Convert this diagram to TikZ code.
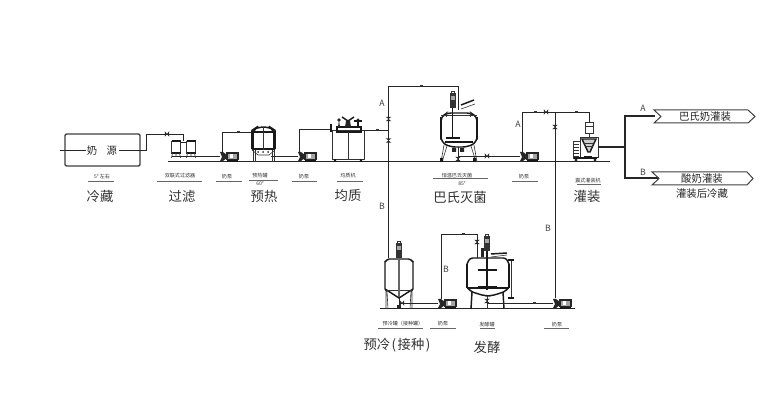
\documentclass[tikz,border=0pt]{standalone}
\usepackage{fontspec}
\setmainfont{Noto Sans CJK SC}
\begin{document}
\begin{tikzpicture}[x=0.75pt,y=-0.75pt,line cap=butt,
  pipe/.style={draw=black!85,line width=0.6pt},
  thin part/.style={draw=black!80,line width=0.45pt},
  heavy/.style={draw=black!90,line width=1.1pt},
  small/.style={font=\fontsize{3.8pt}{4pt}\selectfont,text=black!80,inner sep=0pt},
  big/.style={font=\fontsize{10pt}{11pt}\selectfont,text=black!80,inner sep=0pt},
  mid/.style={font=\fontsize{7.8pt}{9pt}\selectfont,text=black!85,inner sep=0pt},
  letter/.style={font=\fontsize{6.5pt}{7pt}\selectfont,text=black!75,inner sep=0pt},
  uline/.style={draw=black!60,line width=0.55pt},
  pumpunit/.pic={
    \fill[black!85] (-4,-4) -- (-1,-4) -- (3,-1) -- (3,2) -- (-1,5) -- (-4,5) -- (-2,1) -- cycle;
    \draw[draw=black!85,line width=0.8pt,fill=black!35] (3,-3) rectangle (14,3.5);
    \fill[white] (6,-2) rectangle (9,2.5);
    \draw[heavy] (3,5) -- (14,5);
  },
  valveunit/.pic={
    \fill[black!85] (-2.8,-2.2) -- (2.8,-2.2) -- (-2.8,2.2) -- (2.8,2.2) -- cycle;
  },
  hvalve/.pic={
    \fill[black!85] (-2.2,-2.8) -- (-2.2,2.8) -- (2.2,-2.8) -- (2.2,2.8) -- cycle;
  },
  motorunit/.pic={
    \fill[black!80] (-3,-15) rectangle (3,0);
    \fill[black!35] (-2,-12) rectangle (2,-8);
    \draw[thin part] (-1.5,-17) rectangle (1.5,-15);
  },
]
\useasboundingbox (0,0) rectangle (767,416);
\fill[white] (0,0) rectangle (767,416);

% named junctions
\coordinate (srcL) at (60,150);
\coordinate (srcR) at (146,150);
\coordinate (fTop) at (146,134);
\coordinate (fIn) at (183,134);
\coordinate (p1) at (220,156);
\coordinate (p2) at (298,156);
\coordinate (p3) at (520,156);
\coordinate (p4) at (438,303);
\coordinate (p5) at (553,303);
\coordinate (mainL) at (168,162);
\coordinate (mainR) at (610,162);
\coordinate (base2L) at (380,309);
\coordinate (base2R) at (575,309);

% base lines
\draw[pipe,line width=0.75pt] (mainL) -- (mainR);
\draw[pipe,line width=0.75pt] (base2L) -- (base2R);

% milk source
\draw[heavy,draw=black!75,rounded corners=1pt] (65,134) rectangle (140,166);
\draw[pipe] (srcL) -- (86,150) (119,150) -- (srcR) |- (fIn) -- (183,141);
\node[mid] (srcText) at (102,151) {奶\hspace{0.9em}源};
\pic at (167,134) {hvalve};

% filters
\foreach \x/\n in {176/a,191/b}{
  \draw[thin part,line width=0.7pt] (\x-4.5,141) rectangle (\x+4.5,153);
  \draw[draw=black!90,line width=1.4pt] (\x-4.5,141) -- (\x+4.5,141);
  \draw[heavy] (\x-4.5,153) -- (\x+4.5,153);
  \draw[thin part] (\x-3.5,153) -- (\x-4.5,158) (\x+3.5,153) -- (\x+4.5,158) (\x,153) -- (\x,156);
}
\draw[pipe] (180.5,142) -- (186.5,142);
\draw[pipe] (172,156) -- (p1);

% pump 1 and preheat
\pic at (224,156) {pumpunit};
\draw[pipe] (222,152) |- (252,132);
\fill[black!80] (237,131) rectangle (240,133);
\draw[heavy,rounded corners=5pt] (252.5,150) -- (252.5,130) -- (257,127) -- (270,127) -- (274.5,130) -- (274.5,150);
\draw[heavy] (252,132) -- (275,132) (252,149) -- (275,149);
\draw[draw=black!90,line width=1.6pt] (252.5,131) -- (252.5,149) (274.5,131) -- (274.5,149);
\draw[thin part] (263.5,127) -- (263.5,150);
\draw[thin part] (252,150) -- (258,155) -- (269,155) -- (275,150);
\draw[thin part] (253,150) -- (253,162) (274,150) -- (274,162) (255,150) -- (255,162) (272,150) -- (272,162);
\fill[black!80] (258,152) circle (1) (263,152) circle (1) (268,152) circle (1);
\draw[pipe] (271,156) -- (p2);

% pump 2 and homogenizer
\pic at (302,156) {pumpunit};
\draw[pipe] (299,152) |- (331,129);
\draw[heavy] (331,124) -- (331,132);
\draw[thin part] (332,130) rectangle (364,159);
\draw[heavy] (337,127) rectangle (361,132);
\draw[thin part] (348,132) -- (348,159);
\draw[heavy] (335,159) -- (335,162) (361,159) -- (361,162);
\fill[black!90] (333,161) rectangle (337,162) (359,161) rectangle (363,162);
\fill[black!85] (339,120) circle (1.8) (339,120) -- (338,127) -- (340,127) -- cycle;
\draw[heavy] (342,117) -- (348,121) -- (354,117);
\fill[black!85] (346,121) -- (350,121) -- (351,127) -- (345,127) -- cycle;
\fill[black!85] (358,120) circle (1.6);
\draw[heavy] (354,121) -- (362,121) (358,121) -- (358,127);
\draw[pipe] (364,130) -- (389,130);
\fill[black!80] (376,129.2) rectangle (379,130.8);

% crossover vertical to pasteurizer and cold tank
\draw[pipe] (388.5,258) -- (388.5,86) -- (458,86) -- (458,110);
\fill[black!80] (420,85.2) rectangle (423,86.8);
\pic at (388.5,119) {valveunit};
\pic at (388.5,140.5) {valveunit};
\node[letter] (la) at (382,103.5) {A};
\node[letter] (lb) at (382,206) {B};

% pasteurizer
\draw[heavy,rounded corners=3pt] (441,140) -- (441,117) -- (447,113) -- (471,113) -- (477,117) -- (477,140);
\draw[heavy,line width=1.4pt] (441,117) -- (441,139) (477,117) -- (477,139);
\draw[heavy,rounded corners=4pt] (441,139) -- (441,142) -- (450,147) -- (468,147) -- (477,142) -- (477,139);
\draw[thin part] (441,115) -- (477,115);
\draw[heavy] (452.5,108) -- (452.5,138);
\draw[heavy] (446,138) -- (460,138) (445,142) -- (473,142);
\draw[thin part] (446,112) -- (446,117) (470,112) -- (470,117);
\pic at (452.5,108) {motorunit};
\draw[heavy] (461,105) -- (474,100);
\draw[thin part] (461,109) -- (475,104);
\draw[thin part] (444,145) -- (441,162) (447,146) -- (442,162);
\draw[thin part] (474,145) -- (477,162) (471,146) -- (476,162);
\fill[black!90] (440,158) rectangle (443,162) (473,158) rectangle (476,162);
\fill[black!85] (452,148) rectangle (456,152) (460,148) rectangle (464,152);
\draw[pipe] (458,147) -- (458,162);
\pic at (458,159) {valveunit};
\draw[pipe] (458,156) -- (p3);
\pic at (487,156) {hvalve};

% pump 3 and filler feed
\pic at (524,156) {pumpunit};
\draw[pipe] (522,152) |- (589,112) -- (589,123);
\pic at (546,112) {hvalve};
\fill[black!80] (534,111.2) rectangle (537,112.8);
\fill[black!80] (575,111.2) rectangle (578,112.8);
\node[letter] (lc) at (518,124) {A};

% downward crossover
\draw[pipe] (555,112) -- (555,298);
\pic at (555,127) {valveunit};
\node[letter] (ld) at (548,228) {B};

% filler
\draw[thin part,line width=0.7pt] (585,122) rectangle (593,133);
\draw[thin part] (585,126) -- (593,126);
\draw[thin part] (589,133) -- (589,137);
\draw[thin part,line width=0.7pt] (580,137) rectangle (598,157);
\draw[heavy,fill=black!20] (582,139) -- (596,139) -- (590,152) -- (588,152) -- cycle;
\draw[thin part] (584,143) -- (594,143) (585,146) -- (593,146);
\draw[thin part,line width=0.7pt] (573,141) rectangle (580,158);
\foreach \y in {144,147,150,153,156}{\draw[thin part] (574,\y) -- (579,\y);}
\draw[heavy] (574,158) -- (597,158);
\fill[black!85] (576,160) circle (1.7) (595,160) circle (1.7);
\draw[heavy] (584,157) -- (592,157);
\draw[pipe,line width=0.8pt] (598,147) -- (625,147);
\draw[pipe,line width=0.8pt] (655,116) -- (625,116) -- (625,178) -- (659,178);
\node[letter] (le) at (643,108) {A};
\node[letter] (lf) at (643,172) {B};

% banners
\draw[pipe,line width=0.75pt,draw=black!75] (654,110) -- (748,110) -- (755,116.5) -- (748,123) -- (654,123) -- (661,116.5) -- cycle;
\draw[pipe,line width=0.75pt,draw=black!75] (652,172) -- (747,172) -- (753,178.5) -- (747,185) -- (652,185) -- (659,178.5) -- cycle;
\node[mid] (b1) at (705,116.5) {巴氏奶灌装};
\node[mid] (b2) at (702,178.5) {酸奶灌装};
\node[mid] (b3) at (702,194) {灌装后冷藏};

% cold tank
\pic at (399,258) {motorunit};
\draw[heavy] (385,261) -- (385,289) -- (399,298) -- (413,289) -- (413,261);
\draw[heavy,rounded corners=1pt] (385,262) -- (388,259) -- (410,259) -- (413,262);
\draw[thin part] (385,290) -- (413,290);
\draw[heavy,draw=black!60] (399,258) -- (399,297);
\draw[thin part] (386,291) -- (386,309) (412,291) -- (412,309) (387,291) -- (388,309) (411,291) -- (410,309);
\draw[pipe] (399,298) -- (399,309);
\fill[black!85] (397,305) rectangle (401,309);
\draw[pipe] (399,303) -- (p4);
\pic at (402,303) {hvalve};
\pic at (442,303) {pumpunit};
\draw[pipe] (441,299) |- (477,234) -- (477,258);
\fill[black!80] (462,233.2) rectangle (465,234.8);
\pic at (477,242) {valveunit};
\node[letter] (lg) at (446,269) {B};

% ferment tank
\draw[heavy,line width=1.5pt] (467,264) -- (467,288) (509,264) -- (509,288);
\draw[heavy,rounded corners=2pt] (467,264) -- (470,258) -- (506,258) -- (509,264);
\draw[heavy,rounded corners=4pt] (467,287) -- (469,291) -- (485,296) -- (491,296) -- (507,291) -- (509,287);
\draw[heavy] (467,288) -- (509,288);
\draw[heavy] (487,240) -- (487,290);
\draw[heavy] (478,270) -- (497,270) (478,287) -- (497,287);
\pic at (487,251) {motorunit};
\fill[black!85] (481,248) rectangle (484,257);
\draw[heavy] (491,254) -- (507,253);
\draw[thin part] (491,257) -- (507,255);
\draw[heavy] (472,292) -- (471,309) (503,292) -- (504,309);
\draw[thin part] (511,260) -- (511,298);
\draw[heavy] (508,260) -- (514,260) (508,298) -- (514,298);
\draw[thin part] (487,296) -- (487,309);
\pic at (487,301) {valveunit};
\draw[pipe] (487,303) -- (p5);
\fill[black!80] (533,302.2) rectangle (536,303.8);
\pic at (557,303) {pumpunit};

% captions small
\node[small] (c1) at (102,176.5) {5°\ 左右};
\draw[uline] (88,181) -- (114,181);
\node[small] (c2) at (180,176) {双联式过滤器};
\draw[uline] (157,181) -- (202,181);
\node[small] (c3) at (227,177) {奶泵};
\draw[uline] (216,181) -- (242,181);
\node[small] (c4) at (260,176) {预热罐};
\draw[uline] (249,180) -- (278,180);
\node[small] (c4b) at (260,184) {60°};
\node[small] (c5) at (304,177) {奶泵};
\draw[uline] (292,181) -- (317,181);
\node[small] (c6) at (348,176) {均质机};
\draw[uline] (337,181) -- (363,181);
\node[small] (c7) at (457,175.5) {恒温巴氏灭菌};
\draw[uline] (433,178.5) -- (488,178.5);
\node[small] (c7b) at (462,184) {85°};
\node[small] (c8) at (524,176.5) {奶泵};
\draw[uline] (512,181) -- (538,181);
\node[small] (c9) at (588,181) {震式灌装机};
\draw[uline] (577,184.5) -- (601,184.5);
\node[small] (c10) at (403,324) {预冷罐（接种罐）};
\draw[uline] (378,328) -- (423,328);
\node[small] (c11) at (443,324) {奶泵};
\draw[uline] (430,328) -- (456,328);
\node[small] (c12) at (487,325) {发酵罐};
\draw[uline] (480,328) -- (495,328);
\node[small] (c13) at (557,325) {奶泵};
\draw[uline] (544,328) -- (569,328);

% captions big
\node[big] (t1) at (100,196) {冷藏};
\node[big] (t2) at (182,196) {过滤};
\node[big] (t3) at (264,196) {预热};
\node[big] (t4) at (348,195) {均质};
\node[big] (t5) at (460,197) {巴氏灭菌};
\node[big] (t6) at (587,196) {灌装};
\node[big] (t7) at (397,345) {预冷\hspace{0.1em}(\hspace{0.12em}接种\hspace{0.12em})};
\node[big] (t8) at (487,347) {发酵};
\end{tikzpicture}
\end{document}
